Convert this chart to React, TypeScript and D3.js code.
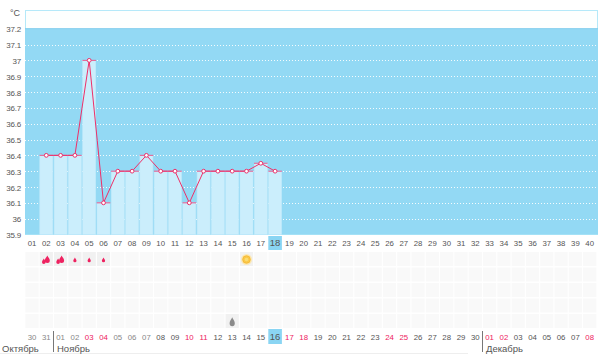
import React from "react";
import * as d3 from "d3";

const yTicks = [37.2, 37.1, 37, 36.9, 36.8, 36.7, 36.6, 36.5, 36.4, 36.3, 36.2, 36.1, 36, 35.9];
const topLabels = d3.range(1, 41).map((d) => String(d).padStart(2, "0"));
const days = [2,3,4,5,6,7,8,9,10,11,12,13,14,15,16,17,18];
const temps = [36.4,36.4,36.4,37,36.1,36.3,36.3,36.4,36.3,36.3,36.1,36.3,36.3,36.3,36.3,36.35,36.3];
const bottomLabels = ["30","31","01","02","03","04","05","06","07","08","09","10","11","12","13","14","15","16","17","18","19","20","21","22","23","24","25","26","27","28","29","30","01","02","03","04","05","06","07","08"];
const redColumns = [5,6,12,13,19,20,26,27,33,34,40];
const fadedColumns = [1,2,3,4,7,8,9];
const bigDrops = [2,3];
const smallDrops = [4,5,6];
const sunColumn = 16;
const grayDropColumn = 15;
const todayTop = 18;
const todayBottom = 18;
const rowTops = [252,267.5,283,298.5,314];
const months = [["Октябрь",2],["Ноябрь",57],["Декабрь",486]] as const;
const separators = [53.5,482.5];

const x = d3.scaleLinear().domain([1,40]).range([32,589.7]);
const y = d3.scaleLinear().domain([35.9,37.2]).range([234.5,28.7]);
const font = "'Liberation Sans', Arial, sans-serif";
const drop = "M0,-3.2 C0.8,-1.6 2,-0.6 2,0.8 A2,2 0 0 1 -2,0.8 C-2,-0.6 -0.8,-1.6 0,-3.2 Z";

export default function App() {
  const line = d3.line<number>().x((_, i) => x(days[i])).y((d) => y(d));
  return (
    <svg width={600} height={355} style={{ position: "absolute", left: 0, top: 0, background: "#fff" }} fontFamily={font}>
      <rect x={25.5} y={10.5} width={572} height={224} fill="#fdfffe" stroke="#b5e9f9" />
      <rect x={25} y={y(37.2)} width={573} height={y(35.9) - y(37.2)} fill="#93d9f4" />
      <line x1={25} x2={598} y1={y(37.2)} y2={y(37.2)} stroke="#7fcdec" />
      {yTicks.slice(1, -1).map((t) => (
        <line key={t} x1={25} x2={598} y1={Math.round(y(t)) + 0.5} y2={Math.round(y(t)) + 0.5} stroke="#fff" strokeDasharray="1 2" opacity={0.9} />
      ))}
      {yTicks.map((t) => (
        <text key={t} x={21} y={y(t) + 3.5} textAnchor="end" fontSize={8} letterSpacing={-0.2} fill="#555">{t}</text>
      ))}
      <text x={20} y={16} textAnchor="end" fontSize={9} fill="#555">°C</text>

      {days.map((d, i) => (
        <rect key={d} x={x(d) - 6.5} y={y(temps[i])} width={13} height={y(35.9) - y(temps[i])} fill="#cbeefc" stroke="#c0e9fa" strokeWidth={0.6} />
      ))}
      {days.map((d, i) => (
        <line key={d} x1={x(d) - 6.8} x2={x(d) + 6.8} y1={y(temps[i])} y2={y(temps[i])} stroke="#e8588c" strokeWidth={1} />
      ))}
      <path d={line(temps) ?? ""} fill="none" stroke="#ef2f68" strokeWidth={1} />
      {days.map((d, i) => (
        <circle key={d} cx={x(d)} cy={y(temps[i])} r={1.9} fill="#fff" stroke="#e8326c" strokeWidth={1} />
      ))}

      <rect x={x(todayTop) - 6.8} y={236} width={13.6} height={14} fill="#8ad5f3" />
      {topLabels.map((l, i) => (
        <text key={i} x={x(i + 1)} y={246} textAnchor="middle" fontSize={i + 1 === todayTop ? 9.5 : 7.8} fill="#555">{l}</text>
      ))}

      {rowTops.map((r, ri) =>
        d3.range(1, 41).map((c) => {
          const marked = (ri === 0 && (bigDrops.includes(c) || smallDrops.includes(c) || c === sunColumn)) || (ri === 4 && c === grayDropColumn);
          return <rect key={`${ri}-${c}`} x={x(c) - 6.6} y={r} width={13.2} height={14} fill={marked ? "#f1f1f1" : "#f9f9f9"} />;
        })
      )}
      {bigDrops.map((c) => (
        <g key={c} fill="#ee2260">
          <path d={drop} transform={`translate(${x(c) + 1},259.5) scale(1.25)`} />
          <path d={drop} transform={`translate(${x(c) - 2.5},261.5) scale(0.9)`} />
        </g>
      ))}
      {smallDrops.map((c) => (
        <path key={c} d={drop} fill="#ee2260" transform={`translate(${x(c)},260) scale(0.8)`} />
      ))}
      <g transform={`translate(${x(sunColumn)},259.5)`}>
        <circle r={5.5} fill="#fbe8b4" />
        <circle r={3.8} fill="#f9c84a" stroke="#f5b52e" strokeWidth={0.8} />
        <circle r={1.8} fill="#fbdc72" />
      </g>
      <path d={drop} fill="#8a8a8a" transform={`translate(${x(grayDropColumn)},322) scale(1.3,1.5)`} />

      <rect x={x(todayBottom) - 6.8} y={329} width={13.6} height={15} fill="#8ad5f3" />
      {bottomLabels.map((l, i) => (
        <text key={i} x={x(i + 1)} y={340} textAnchor="middle" fontSize={i + 1 === todayBottom ? 9.5 : 7.8} fill={redColumns.includes(i + 1) ? "#ee2260" : fadedColumns.includes(i + 1) ? "#888" : "#555"}>{l}</text>
      ))}

      {separators.map((s) => (
        <line key={s} x1={s} x2={s} y1={331} y2={352} stroke="#777" />
      ))}
      <line x1={0} x2={468} y1={353.5} y2={353.5} stroke="#eee" />
      {months.map(([m, px]) => (
        <text key={m} x={px} y={352} fontSize={9.5} fill="#555">{m}</text>
      ))}
    </svg>
  );
}
